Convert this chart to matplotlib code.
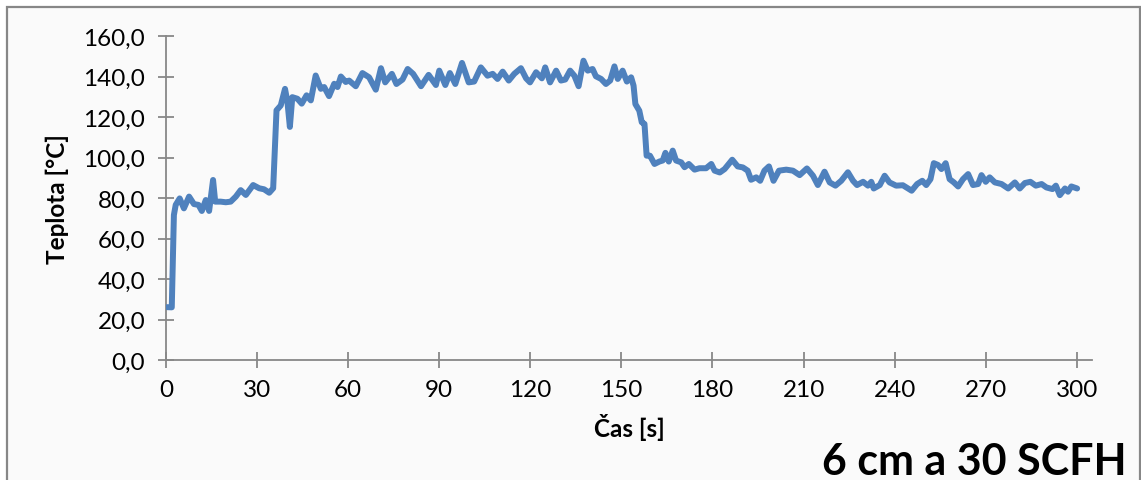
import matplotlib
matplotlib.use("Agg")
import matplotlib.pyplot as plt
from matplotlib.patches import Rectangle
from matplotlib.ticker import FuncFormatter

# Time [s] and temperature [°C] readings
cas = [0.4, 1.9, 2.6, 3.2, 4.5, 5.9, 7.6, 9.2, 10.7, 11.8, 13.1, 14.2, 15.5, 16.2,
       18.0, 19.7, 21.3, 23.0, 24.6, 26.3, 28.7, 30.7, 32.3, 34.0, 35.3, 36.4,
       37.8, 39.2, 40.0, 40.8, 41.6, 43.3, 44.7, 46.3, 47.7, 49.3, 51.0, 52.1,
       53.7, 55.4, 56.5, 57.6, 59.2, 60.3, 62.5, 64.7, 66.9, 69.1, 70.8, 72.2,
       74.4, 75.9, 77.9, 79.6, 81.4, 84.0, 86.5, 88.9, 90.0, 92.0, 93.5, 95.3,
       97.5, 99.7, 101.5, 103.7, 105.9, 107.6, 109.2, 110.9, 112.9, 114.7,
       116.9, 118.6, 119.9, 121.9, 123.8, 124.9, 126.5, 128.5, 130.1, 131.5,
       133.1, 134.5, 135.9, 137.5, 138.9, 140.5, 141.6, 143.3, 144.9, 146.3,
       147.7, 148.8, 150.4, 151.8, 153.2, 154.0, 154.6, 155.9, 156.7, 157.6,
       158.3, 159.4, 160.9, 162.5, 163.6, 164.5, 165.6, 166.9, 168.0, 169.7,
       170.8, 172.2, 174.1, 175.7, 177.9, 179.6, 180.7, 182.4, 184.0, 186.5,
       188.3, 190.0, 191.6, 192.7, 194.4, 195.7, 197.1, 198.6, 200.1, 201.9,
       204.3, 206.5, 208.7, 211.1, 213.1, 214.7, 216.9, 218.6, 220.5, 222.4,
       224.6, 226.3, 227.6, 229.6, 231.2, 232.3, 233.1, 235.1, 236.7, 238.3,
       240.5, 242.7, 245.6, 247.4, 249.1, 250.4, 251.8, 252.9, 254.3, 255.4,
       256.8, 258.1, 259.5, 260.9, 262.5, 264.2, 265.8, 267.5, 268.6, 270.0,
       271.3, 273.0, 275.2, 277.4, 279.6, 281.2, 282.9, 284.7, 286.5, 288.4,
       290.0, 292.0, 293.1, 294.4, 296.1, 297.1, 298.2, 300.1]
teplota = [26.1, 26.0, 71.6, 76.6, 79.8, 74.9, 80.7, 77.0, 76.6, 73.6, 79.0, 73.6,
           88.9, 78.2, 78.2, 77.9, 78.2, 80.7, 83.9, 81.5, 86.4, 84.8, 84.3, 82.6,
           84.8, 123.3, 125.7, 133.9, 127.4, 115.1, 129.8, 129.0, 126.6, 130.7,
           128.2, 140.5, 133.9, 134.8, 130.3, 136.4, 134.8, 140.0, 137.3, 138.0,
           135.2, 141.7, 139.6, 133.5, 144.1, 137.1, 141.3, 136.3, 138.5, 143.7,
           141.3, 135.2, 140.8, 135.8, 142.9, 135.8, 141.7, 136.3, 146.7, 137.1,
           137.5, 144.5, 140.4, 141.3, 138.8, 142.4, 138.0, 141.3, 144.1, 139.1,
           137.1, 142.1, 139.1, 144.5, 137.1, 142.9, 138.0, 138.5, 142.9, 140.4,
           135.2, 147.8, 142.9, 143.7, 140.1, 138.8, 136.3, 138.0, 145.0, 138.8,
           142.9, 137.5, 139.6, 135.5, 126.4, 123.1, 117.4, 116.6, 100.9, 100.9,
           96.8, 98.0, 98.5, 102.3, 98.0, 103.4, 98.5, 97.6, 95.2, 96.8, 94.0,
           94.7, 94.7, 96.8, 93.5, 92.6, 94.3, 98.9, 95.6, 95.1, 93.5, 89.0, 90.2,
           88.5, 93.5, 95.6, 88.5, 93.5, 94.0, 93.5, 91.3, 94.6, 91.0, 86.4, 93.0,
           87.7, 86.1, 88.5, 92.7, 88.5, 86.4, 88.0, 86.1, 88.0, 84.7, 86.4, 91.0,
           87.7, 86.1, 86.3, 83.6, 86.9, 88.5, 86.4, 89.3, 97.2, 96.3, 94.3, 97.2,
           89.3, 87.7, 85.7, 89.3, 91.8, 86.4, 86.9, 91.3, 88.0, 90.2, 87.7, 86.9,
           84.7, 87.7, 84.7, 87.4, 88.0, 86.1, 86.9, 85.2, 84.4, 86.1, 81.4, 84.7,
           83.1, 85.7, 84.7]

x_ticks = [0, 30, 60, 90, 120, 150, 180, 210, 240, 270, 300]
y_ticks = [0, 20, 40, 60, 80, 100, 120, 140, 160]
x_label = "Čas [s]"
y_label = "Teplota [°C]"
caption = "6 cm a 30 SCFH"

W, H = 1141, 481
plt.rcParams["font.family"] = ["Lato", "DejaVu Sans"]

fig = plt.figure(figsize=(W / 100, H / 100), dpi=100)
fig.patch.set_facecolor("white")

# chart area frame, drawn beneath the axes
frame = Rectangle((6.5 / W, -0.05), (1139.5 - 6.5) / W, 1.05 - 7.5 / H,
                  transform=fig.transFigure, facecolor="#fafafa",
                  edgecolor="#878787", linewidth=1.6, zorder=-10)
fig.add_artist(frame)

ax = fig.add_axes([166 / W, 120 / H, (1092 - 166) / W, (361 - 37) / H])
ax.patch.set_alpha(0)
ax.set_zorder(1)

blue = "#4F81BD"
ax.plot(cas, teplota, color=blue, linewidth=4.3, solid_joinstyle="round",
        solid_capstyle="round", zorder=3)

ax.set_xlim(0, 305)
ax.set_ylim(0, 160)
ax.set_xticks(x_ticks)
ax.set_yticks(y_ticks)
ax.yaxis.set_major_formatter(FuncFormatter(lambda v, p: f"{v:.1f}".replace(".", ",")))

for s in ["top", "right"]:
    ax.spines[s].set_visible(False)
for s in ["left", "bottom"]:
    ax.spines[s].set_color("#878787")
    ax.spines[s].set_linewidth(1.3)

ax.tick_params(axis="both", direction="inout", length=12, width=1.3,
               color="#878787", labelsize=17.5, labelcolor="black")
ax.tick_params(axis="y", pad=9)
ax.tick_params(axis="x", pad=8)

ax.set_xlabel(x_label, fontsize=17.5, fontweight="bold", labelpad=9)
ax.set_ylabel(y_label, fontsize=17.5, fontweight="bold", labelpad=10)

fig.text(1127 / W, 1 - 475 / H, caption, fontsize=31, fontweight="bold",
         ha="right", va="baseline", zorder=5)

fig.savefig("out.png", dpi=100, facecolor=fig.get_facecolor())
